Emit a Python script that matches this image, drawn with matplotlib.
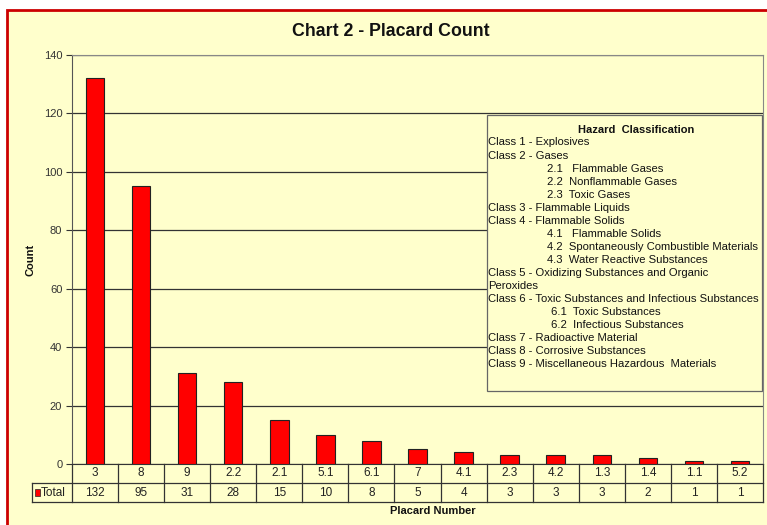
import matplotlib
matplotlib.use("Agg")
import matplotlib.pyplot as plt
from matplotlib.patches import Rectangle
import numpy as np

plt.rcParams['font.family'] = ['Liberation Sans', 'DejaVu Sans']

placards = ["3", "8", "9", "2.2", "2.1", "5.1", "6.1", "7", "4.1", "2.3", "4.2", "1.3", "1.4", "1.1", "5.2"]
totals = [132, 95, 31, 28, 15, 10, 8, 5, 4, 3, 3, 3, 2, 1, 1]
yticks = [0, 20, 40, 60, 80, 100, 120, 140]

legend_title = "Hazard  Classification"
legend_lines = [
    ("Class 1 - Explosives", 0),
    ("Class 2 - Gases", 0),
    ("2.1   Flammable Gases", 1),
    ("2.2  Nonflammable Gases", 1),
    ("2.3  Toxic Gases", 1),
    ("Class 3 - Flammable Liquids", 0),
    ("Class 4 - Flammable Solids", 0),
    ("4.1   Flammable Solids", 1),
    ("4.2  Spontaneously Combustible Materials", 1),
    ("4.3  Water Reactive Substances", 1),
    ("Class 5 - Oxidizing Substances and Organic", 0),
    ("Peroxides", 0),
    ("Class 6 - Toxic Substances and Infectious Substances", 0),
    ("6.1  Toxic Substances", 2),
    ("6.2  Infectious Substances", 2),
    ("Class 7 - Radioactive Material", 0),
    ("Class 8 - Corrosive Substances", 0),
    ("Class 9 - Miscellaneous Hazardous  Materials", 0),
]

W, H = 767, 525
bg = '#FFFFCC'

def fx(px):
    return px / W

def fy(py):
    return 1 - py / H

fig = plt.figure(figsize=(W / 100, H / 100), dpi=100)
fig.patch.set_facecolor('white')

# yellow panel with red frame
fig.patches.append(Rectangle((fx(7), fy(540)), fx(780) - fx(7), fy(10) - fy(540),
                             transform=fig.transFigure, facecolor=bg, edgecolor='#CC0000',
                             linewidth=2.0, zorder=-5))

ax = fig.add_axes([fx(72), fy(464), fx(763) - fx(72), fy(55) - fy(464)])
ax.set_facecolor(bg)

x = np.arange(len(placards))
ax.bar(x, totals, width=0.4, color='#FF0000', edgecolor='#222222', linewidth=0.8, zorder=3)

ax.set_xlim(-0.5, len(placards) - 0.5)
ax.set_ylim(0, 140)
ax.set_yticks(yticks)
ax.set_yticklabels([str(v) for v in yticks], fontsize=8, color='#333333')
ax.tick_params(axis='y', length=4, width=0.8, color='#333333', pad=3)
ax.set_xticks([])
ax.grid(axis='y', color='#333333', linewidth=0.9, zorder=1)
for s in ['top', 'right']:
    ax.spines[s].set_color('#888888')
    ax.spines[s].set_linewidth(0.8)
ax.spines['left'].set_color('#555555')
ax.spines['bottom'].set_color('#333333')

# data table under the axis
row_h = 19 * 140 / 409
lc = '#333333'
left_hdr = -0.5 - 40 / ((763 - 72) / len(placards))
n = len(placards)
ax.plot([left_hdr, n - 0.5], [-row_h, -row_h], color=lc, lw=0.9, clip_on=False)
ax.plot([left_hdr, n - 0.5], [-2 * row_h, -2 * row_h], color=lc, lw=0.9, clip_on=False)
ax.plot([left_hdr, left_hdr], [-row_h, -2 * row_h], color=lc, lw=0.9, clip_on=False)
for i in range(n + 1):
    ax.plot([i - 0.5, i - 0.5], [0, -2 * row_h], color=lc, lw=0.9, clip_on=False)
for i, (p, t) in enumerate(zip(placards, totals)):
    ax.text(i, -0.5 * row_h, p, ha='center', va='center', fontsize=8.5, color='#222222')
    ax.text(i, -1.5 * row_h, str(t), ha='center', va='center', fontsize=8.5, color='#222222')
ax.add_patch(Rectangle((left_hdr + 0.06, -1.5 * row_h - 1.3), 0.11, 2.6,
                       facecolor='#FF0000', edgecolor='#222222', linewidth=0.5, clip_on=False))
ax.text(left_hdr + 0.18, -1.5 * row_h, "Total", ha='left', va='center', fontsize=8.5, color='#222222')

# titles
fig.text(fx(391), fy(31), "Chart 2 - Placard Count", ha='center', va='center',
         fontsize=12.8, fontweight='bold', color='#111111')
fig.text(fx(31), fy(260), "Count", ha='center', va='center', rotation=90,
         fontsize=8, fontweight='bold', color='#111111')
fig.text(fx(433), fy(511), "Placard Number", ha='center', va='center',
         fontsize=8, fontweight='bold', color='#111111')

# hazard classification box
fig.patches.append(Rectangle((fx(487), fy(391)), fx(762) - fx(487), fy(115) - fy(391),
                             transform=fig.transFigure, facecolor=bg, edgecolor='#666666',
                             linewidth=0.9, zorder=5))
fig.text(fx(636), fy(130), legend_title, ha='center', va='center', fontsize=8,
         fontweight='bold', color='#111111', zorder=6)
indent = {0: 488, 1: 547, 2: 551}
for k, (line, lvl) in enumerate(legend_lines):
    fig.text(fx(indent[lvl]), fy(142.5 + k * 13.05), line, ha='left', va='center',
             fontsize=8.1, color='#111111', zorder=6)

fig.savefig("out.png", dpi=100, facecolor=fig.get_facecolor())
